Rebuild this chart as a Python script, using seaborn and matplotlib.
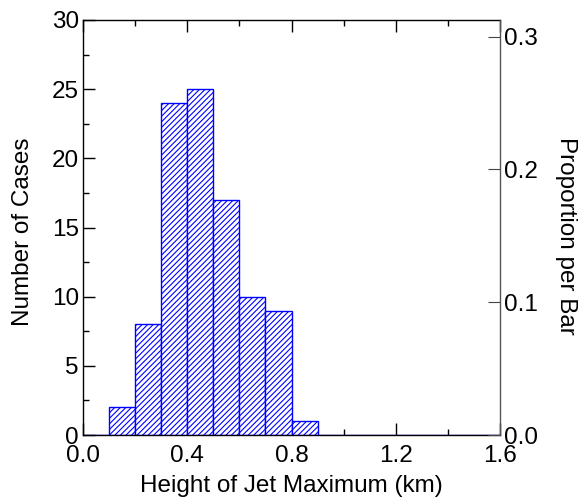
import numpy as np
import pandas as pd
import matplotlib
matplotlib.use("Agg")
import matplotlib.pyplot as plt
import seaborn as sns
from matplotlib.ticker import MultipleLocator

# Data: bin edges (km) and counts per 0.1 km bin
bin_edges = [0.0, 0.1, 0.2, 0.3, 0.4, 0.5, 0.6, 0.7, 0.8, 0.9,
             1.0, 1.1, 1.2, 1.3, 1.4, 1.5, 1.6]
counts = [0, 2, 8, 24, 25, 17, 10, 9, 1, 0, 0, 0, 0, 0, 0, 0]
x_label = "Height of Jet Maximum (km)"
y_label = "Number of Cases"
y2_label = "Proportion per Bar"

centers = [(a + b) / 2 for a, b in zip(bin_edges[:-1], bin_edges[1:])]
df = pd.DataFrame({"height": centers, "count": counts})
total = sum(counts)

sns.set_style("ticks")
plt.rcParams["font.family"] = ["Liberation Sans", "DejaVu Sans"]
plt.rcParams["hatch.linewidth"] = 0.8
for k in ["text.color", "axes.labelcolor", "xtick.labelcolor", "ytick.labelcolor",
          "xtick.color", "ytick.color"]:
    plt.rcParams[k] = "black"

W, H = 582, 504
L, R, T, B = 83, 500, 20, 435
fig = plt.figure(figsize=(W / 100, H / 100), dpi=100)
ax = fig.add_axes([L / W, 1 - B / H, (R - L) / W, (B - T) / H])

sns.histplot(data=df, x="height", weights="count", bins=bin_edges, ax=ax,
             facecolor="white", edgecolor="#0000ff", linewidth=1.0,
             hatch="//////", alpha=1.0)

FS = 17.5
ax.set_xlim(0, 1.6)
ax.set_ylim(0, 30)
ax.xaxis.set_major_locator(MultipleLocator(0.4))
ax.xaxis.set_minor_locator(MultipleLocator(0.2))
ax.yaxis.set_major_locator(MultipleLocator(5))
ax.yaxis.set_minor_locator(MultipleLocator(2.5))
ax.set_xticks(ax.get_xticks())
ax.set_xticklabels([f"{v:.1f}" for v in ax.get_xticks()])
ax.tick_params(which="both", direction="in", top=True, right=False,
               labelsize=FS, color="black", labelcolor="black", width=1.0)
ax.tick_params(axis="x", pad=7)
ax.tick_params(axis="y", pad=3)
ax.tick_params(which="major", length=8.5)
ax.tick_params(which="minor", length=4.5)
ax.set_xlim(0, 1.6)
ax.set_xlabel(x_label, fontsize=FS, va="center", color="black")
ax.set_ylabel(y_label, fontsize=FS, va="center", color="black")
ax.xaxis.set_label_coords((291 - L) / (R - L), (B - 486) / (B - T))
ax.yaxis.set_label_coords((23 - L) / (R - L), (B - 232) / (B - T))
for s in ["left", "top", "bottom"]:
    ax.spines[s].set_color("black")
    ax.spines[s].set_linewidth(1.0)
ax.spines["right"].set_visible(False)

ax2 = ax.twinx()
ax2.set_ylim(0, 30 / total)
ax2.yaxis.set_major_locator(MultipleLocator(0.1))
ax2.set_yticks(ax2.get_yticks())
ax2.set_yticklabels([f"{v:.1f}" for v in ax2.get_yticks()])
ax2.set_ylim(0, 30 / total)
ax2.tick_params(axis="y", direction="in", length=8.5, labelsize=FS, pad=3,
                color="#444444", labelcolor="black")
ax2.set_ylabel(y2_label, fontsize=FS, rotation=-90, va="center", color="black")
ax2.yaxis.set_label_coords((566 - L) / (R - L), (B - 236) / (B - T))
ax2.yaxis.label.set_va("center")
for s in ["left", "top", "bottom"]:
    ax2.spines[s].set_visible(False)
ax2.spines["right"].set_color("#555555")
ax2.spines["right"].set_linewidth(1.0)

fig.savefig("out.png", dpi=100)
